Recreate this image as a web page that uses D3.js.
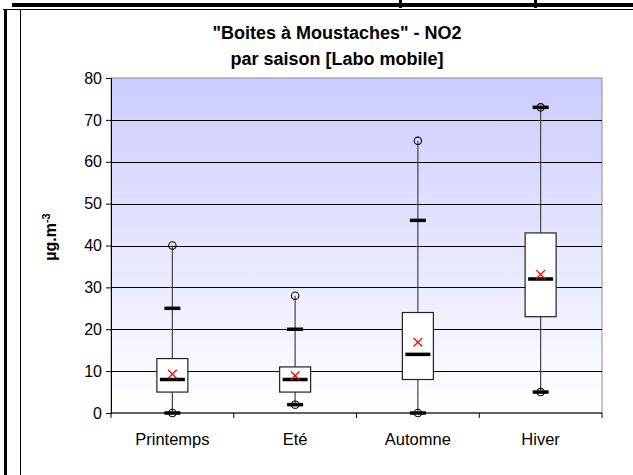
<!DOCTYPE html>
<html>
<head>
<meta charset="utf-8">
<script src="https://cdn.jsdelivr.net/npm/d3@7"></script>
<style>
  body { margin: 0; background: #fff; }
  svg { display: block; font-family: "Liberation Sans", Arial, sans-serif; }
</style>
</head>
<body>
<div id="chart"></div>
<script>
// seasons and box statistics (NO2, µg.m-3)
var categories = ["Printemps", "Eté", "Automne", "Hiver"];
var minVals = [0, 2, 0, 5];
var p5Vals = [0, 2, 0, 5];
var q1Vals = [5, 5, 8, 23];
var medianVals = [8, 8, 14, 32];
var q3Vals = [13, 11, 24, 43];
var p95Vals = [25, 20, 46, 73];
var maxVals = [40, 28, 65, 73];
var meanVals = [9.3, 8.9, 16.9, 33.1];
var yTicks = [0, 10, 20, 30, 40, 50, 60, 70, 80];

var width = 633, height = 475;
var margin = {top: 78, right: 31, bottom: 62, left: 111};

var svg = d3.select("#chart").append("svg")
    .attr("width", width)
    .attr("height", height);

// frame of the surrounding table
svg.append("rect").attr("x", 12).attr("y", 3).attr("width", width - 12).attr("height", 4).attr("fill", "#000");
svg.append("rect").attr("x", 399).attr("y", 0).attr("width", 3).attr("height", 8).attr("fill", "#000");
svg.append("rect").attr("x", 534).attr("y", 0).attr("width", 3).attr("height", 8).attr("fill", "#000");
svg.append("line").attr("x1", 3).attr("x2", width).attr("y1", 9.5).attr("y2", 9.5).attr("stroke", "#000");
svg.append("rect").attr("x", 4).attr("y", 9).attr("width", 3).attr("height", height - 9).attr("fill", "#000");
svg.append("line").attr("x1", 20.5).attr("x2", 20.5).attr("y1", 9).attr("y2", height).attr("stroke", "#000");

var plotW = width - margin.left - margin.right;
var plotH = height - margin.top - margin.bottom;

var x = d3.scaleBand().domain(categories).range([margin.left, margin.left + plotW]).padding(0);
var y = d3.scaleLinear().domain([0, 80]).range([margin.top + plotH, margin.top]);

// background gradient
var grad = svg.append("defs").append("linearGradient")
    .attr("id", "bg").attr("x1", 0).attr("y1", 0).attr("x2", 0).attr("y2", 1);
grad.append("stop").attr("offset", "0%").attr("stop-color", "#ccccff");
grad.append("stop").attr("offset", "100%").attr("stop-color", "#ffffff");

svg.append("rect")
    .attr("x", margin.left).attr("y", margin.top)
    .attr("width", plotW).attr("height", plotH)
    .attr("fill", "url(#bg)")
    .attr("stroke", "#8c8c8c");

// gridlines
svg.append("g").selectAll("line")
    .data(yTicks.filter(function(d){ return d > 0 && d < 80; }))
    .enter().append("line")
    .attr("x1", margin.left).attr("x2", margin.left + plotW)
    .attr("y1", function(d){ return Math.round(y(d)) + 0.5; })
    .attr("y2", function(d){ return Math.round(y(d)) + 0.5; })
    .attr("stroke", "#000").attr("stroke-width", 1);

// y axis
var yAxis = svg.append("g")
    .attr("transform", "translate(" + margin.left + ",0)")
    .call(d3.axisLeft(y).tickValues(yTicks).tickSize(5).tickPadding(4));
yAxis.select(".domain").attr("stroke", "#000");
yAxis.selectAll("text").attr("font-size", 16).attr("fill", "#000").attr("font-family", "Liberation Sans, Arial, sans-serif");

// x axis: boundary ticks + labels
var xAxis = svg.append("g")
    .attr("transform", "translate(0," + (margin.top + plotH) + ")");
xAxis.append("line")
    .attr("x1", margin.left).attr("x2", margin.left + plotW)
    .attr("y1", 0).attr("y2", 0).attr("stroke", "#000");
var edges = categories.map(function(c){ return x(c); }).concat([x(categories[categories.length - 1]) + x.bandwidth()]);
xAxis.selectAll(".edge").data(edges).enter().append("line")
    .attr("class", "edge")
    .attr("x1", function(d){ return d; }).attr("x2", function(d){ return d; })
    .attr("y1", 0).attr("y2", 5).attr("stroke", "#000");
xAxis.selectAll(".lab").data(categories).enter().append("text")
    .attr("class", "lab")
    .attr("x", function(d){ return x(d) + x.bandwidth() / 2; })
    .attr("y", 32)
    .attr("text-anchor", "middle")
    .attr("font-size", 16.5)
    .text(function(d){ return d; });

// boxes
var boxW = 31, medW = 25, dashW = 16;
var boxes = svg.append("g").selectAll("g")
    .data(categories).enter().append("g")
    .attr("transform", function(d){ return "translate(" + (x(d) + x.bandwidth() / 2) + ",0)"; });

boxes.append("line")
    .attr("x1", 0).attr("x2", 0)
    .attr("y1", function(d, i){ return y(minVals[i]); })
    .attr("y2", function(d, i){ return y(maxVals[i]); })
    .attr("stroke", "#444").attr("stroke-width", 1.2);

boxes.append("rect")
    .attr("x", -boxW / 2)
    .attr("y", function(d, i){ return y(q3Vals[i]); })
    .attr("width", boxW)
    .attr("height", function(d, i){ return y(q1Vals[i]) - y(q3Vals[i]); })
    .attr("fill", "#fff").attr("stroke", "#222").attr("stroke-width", 1.2);

boxes.append("line")
    .attr("x1", -medW / 2).attr("x2", medW / 2)
    .attr("y1", function(d, i){ return y(medianVals[i]); })
    .attr("y2", function(d, i){ return y(medianVals[i]); })
    .attr("stroke", "#000").attr("stroke-width", 3.5);

[p5Vals, p95Vals].forEach(function(arr){
  boxes.append("line")
      .attr("x1", -dashW / 2).attr("x2", dashW / 2)
      .attr("y1", function(d, i){ return y(arr[i]); })
      .attr("y2", function(d, i){ return y(arr[i]); })
      .attr("stroke", "#000").attr("stroke-width", 3.5);
});

[minVals, maxVals].forEach(function(arr){
  boxes.append("circle")
      .attr("cx", 0)
      .attr("cy", function(d, i){ return y(arr[i]); })
      .attr("r", 3.7)
      .attr("fill", "none").attr("stroke", "#000").attr("stroke-width", 1.1);
});

// mean markers
boxes.append("path")
    .attr("d", function(d, i){
      var cy = y(meanVals[i]), s = 4.3;
      return "M" + (-s) + "," + (cy - s) + "L" + s + "," + (cy + s) +
             "M" + (-s) + "," + (cy + s) + "L" + s + "," + (cy - s);
    })
    .attr("stroke", "#ff0000").attr("stroke-width", 1.3).attr("fill", "none");

// title
var title = svg.append("text")
    .attr("x", 337).attr("text-anchor", "middle")
    .attr("font-size", 18).attr("font-weight", "bold");
title.append("tspan").attr("x", 337).attr("y", 39).text("\"Boites à Moustaches\" - NO2");
title.append("tspan").attr("x", 337).attr("y", 65).text("par saison [Labo mobile]");

// y label
var yl = svg.append("text")
    .attr("transform", "translate(56,237) rotate(-90)")
    .attr("text-anchor", "middle")
    .attr("font-size", 16).attr("font-weight", "bold");
yl.append("tspan").text("µg.m");
yl.append("tspan").attr("dy", -6).attr("font-size", 11).text("-3");
</script>
</body>
</html>
